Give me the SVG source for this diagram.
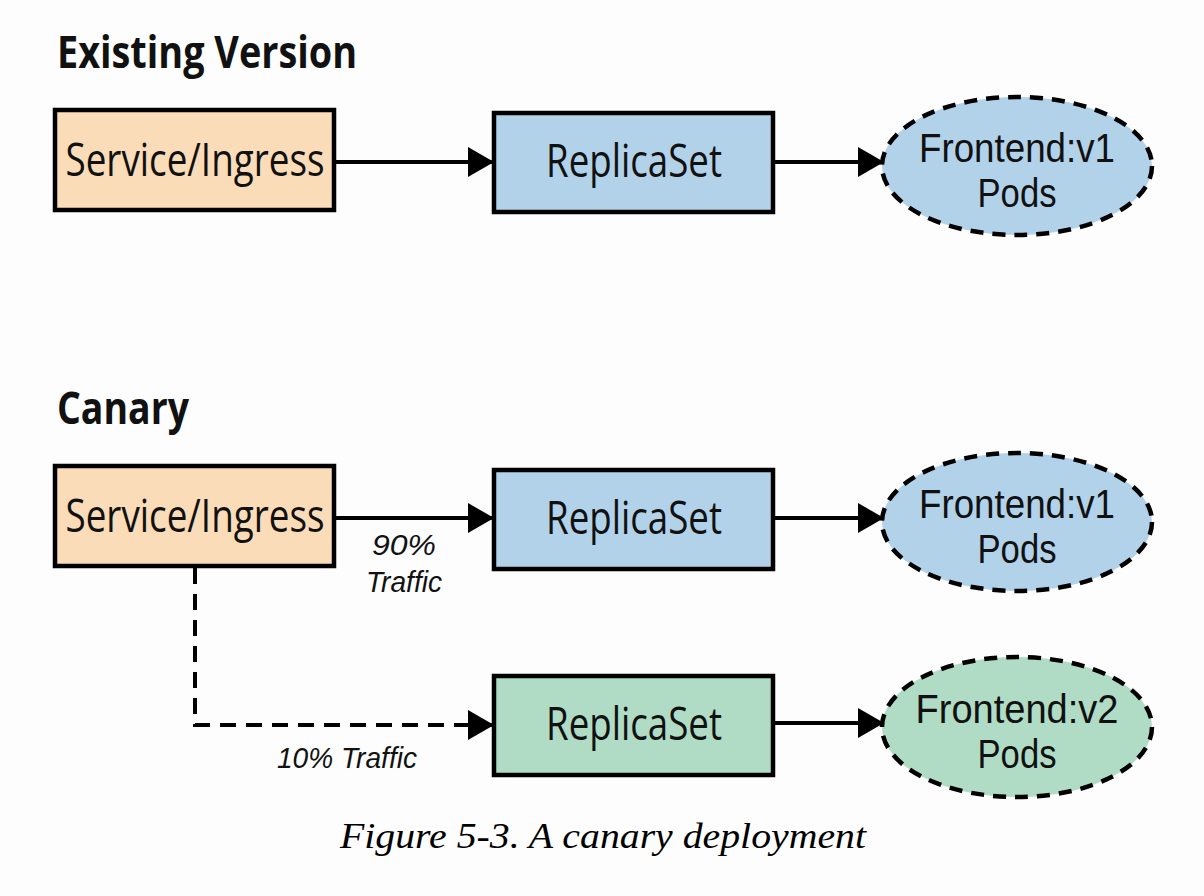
<svg xmlns="http://www.w3.org/2000/svg" width="1204" height="896" viewBox="0 0 1204 896">
<defs>
<marker id="ah" markerUnits="userSpaceOnUse" markerWidth="28" markerHeight="32" refX="26" refY="15" orient="auto">
<path d="M0,0 L26,15 L0,30 Z" fill="#000"/>
</marker>
<style>
.box{stroke:#000;stroke-width:4.5}
.pod{stroke:#000;stroke-width:4.5;stroke-dasharray:13 9}
.peach{fill:#fbdcb9}
.blue{fill:#b2d2ea}
.green{fill:#b0dcc5}
.t{font-family:"Open Sans","Liberation Sans",sans-serif;font-size:45px;fill:#111;text-anchor:middle}
.e{font-family:"Liberation Sans",Arial,sans-serif;font-size:40px;fill:#111;text-anchor:middle}
.h{font-family:"Open Sans","Liberation Sans",sans-serif;font-weight:bold;font-size:44px;fill:#111}
.lbl{font-family:"Liberation Sans",Arial,sans-serif;font-style:italic;font-size:30px;fill:#111}
.cap{font-family:"Liberation Serif",serif;font-style:italic;font-size:36px;fill:#000}
.ln{stroke:#000;stroke-width:4;fill:none}
.dl{stroke:#000;stroke-width:4;fill:none;stroke-dasharray:16 10}
</style>
</defs>
<rect width="1204" height="896" fill="#fdfdfd"/>
<text class="h" x="57" y="68" textLength="300" lengthAdjust="spacingAndGlyphs">Existing Version</text>
<text class="h" x="57" y="424" textLength="132" lengthAdjust="spacingAndGlyphs">Canary</text>

<g id="connectors">
<line class="ln" x1="335" y1="162" x2="494" y2="162" marker-end="url(#ah)"/>
<line class="ln" x1="773" y1="162" x2="884" y2="162" marker-end="url(#ah)"/>
<line class="ln" x1="335" y1="518" x2="494" y2="518" marker-end="url(#ah)"/>
<line class="ln" x1="773" y1="518" x2="884" y2="518" marker-end="url(#ah)"/>
<line class="ln" x1="773" y1="723" x2="884" y2="723" marker-end="url(#ah)"/>
<path class="dl" d="M195,568 V725 H494" marker-end="url(#ah)"/>
<text class="lbl" x="404" y="555" text-anchor="middle" textLength="64" lengthAdjust="spacingAndGlyphs">90%</text>
<text class="lbl" x="404" y="592" text-anchor="middle" textLength="76" lengthAdjust="spacingAndGlyphs">Traffic</text>
<text class="lbl" x="277" y="768" textLength="140" lengthAdjust="spacingAndGlyphs">10% Traffic</text>
</g>

<g id="svc1"><rect class="box peach" x="55" y="110" width="279" height="100"/>
<text class="t" x="195" y="176" textLength="259" lengthAdjust="spacingAndGlyphs">Service/Ingress</text></g>
<g id="rs1"><rect class="box blue" x="494" y="113" width="279" height="99"/>
<text class="t" x="634" y="177" textLength="176" lengthAdjust="spacingAndGlyphs">ReplicaSet</text></g>
<g id="pods1"><ellipse class="pod blue" cx="1017" cy="166" rx="135" ry="69"/>
<text class="e" x="1017" y="162" textLength="196" lengthAdjust="spacingAndGlyphs">Frontend:v1</text>
<text class="e" x="1017" y="207" textLength="79" lengthAdjust="spacingAndGlyphs">Pods</text></g>

<g id="svc2"><rect class="box peach" x="55" y="466" width="279" height="100"/>
<text class="t" x="195" y="532" textLength="259" lengthAdjust="spacingAndGlyphs">Service/Ingress</text></g>
<g id="rs2"><rect class="box blue" x="494" y="470" width="279" height="99"/>
<text class="t" x="634" y="534" textLength="176" lengthAdjust="spacingAndGlyphs">ReplicaSet</text></g>
<g id="pods2"><ellipse class="pod blue" cx="1017" cy="522" rx="135" ry="69"/>
<text class="e" x="1017" y="518" textLength="196" lengthAdjust="spacingAndGlyphs">Frontend:v1</text>
<text class="e" x="1017" y="563" textLength="79" lengthAdjust="spacingAndGlyphs">Pods</text></g>

<g id="rs3"><rect class="box green" x="494" y="676" width="279" height="99"/>
<text class="t" x="634" y="740" textLength="176" lengthAdjust="spacingAndGlyphs">ReplicaSet</text></g>
<g id="pods3"><ellipse class="pod green" cx="1017" cy="727" rx="135" ry="70"/>
<text class="e" x="1017" y="723" textLength="203" lengthAdjust="spacingAndGlyphs">Frontend:v2</text>
<text class="e" x="1017" y="768" textLength="79" lengthAdjust="spacingAndGlyphs">Pods</text></g>

<text class="cap" x="340" y="848" textLength="526" lengthAdjust="spacingAndGlyphs">Figure 5-3. A canary deployment</text>
</svg>
